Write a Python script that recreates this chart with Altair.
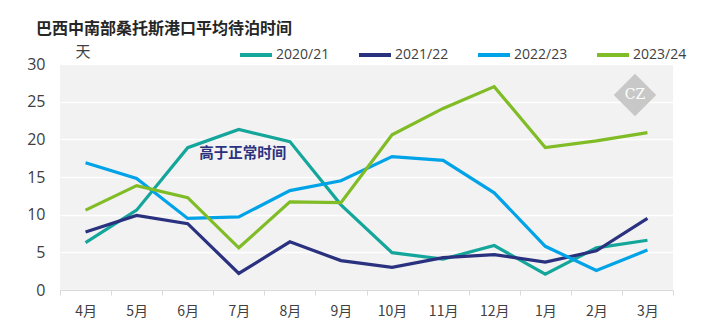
import altair as alt
import pandas as pd

months = ["4月", "5月", "6月", "7月", "8月", "9月", "10月", "11月", "12月", "1月", "2月", "3月"]
seasons = ["2020/21", "2021/22", "2022/23", "2023/24"]
colors = ["#14a69a", "#2a317f", "#00a3e8", "#80bc26"]
s2020 = [6.3, 10.6, 18.9, 21.3, 19.7, 11.3, 4.95, 4.1, 5.9, 2.1, 5.6, 6.6]
s2021 = [7.7, 9.9, 8.8, 2.2, 6.4, 3.9, 3.0, 4.3, 4.7, 3.7, 5.2, 9.5]
s2022 = [16.9, 14.8, 9.5, 9.7, 13.2, 14.5, 17.7, 17.2, 12.9, 5.8, 2.6, 5.3]
s2023 = [10.6, 13.85, 12.25, 5.6, 11.7, 11.6, 20.6, 24.1, 27.0, 18.9, 19.8, 20.9]
y_ticks = [0, 5, 10, 15, 20, 25, 30]

rows = []
for name, vals in zip(seasons, [s2020, s2021, s2022, s2023]):
    for m, v in zip(months, vals):
        rows.append({"month": m, "season": name, "value": v})
df = pd.DataFrame(rows)

cjk = "Noto Sans CJK SC"
num = "Open Sans"

xscale = alt.Scale(type="band", paddingInner=0, paddingOuter=0)
yscale = alt.Scale(domain=[0, 30], nice=False)

x = alt.X("month:N", sort=months, title=None, scale=xscale,
          axis=alt.Axis(labelAngle=0, tickBand="extent", domainColor="#d9d9d9", tickColor="#d9d9d9",
                        tickSize=5, labelPadding=9, labelFont=cjk, labelFontSize=14,
                        labelColor="#404040", grid=False))
y = alt.Y("value:Q", title=None, scale=yscale,
          axis=alt.Axis(values=y_ticks, tickCount=7, domain=False, ticks=False, labelPadding=15,
                        labelOverlap=False, labelFlush=False,
                        labelFont=num, labelFontSize=16, labelColor="#404040",
                        gridColor="#ffffff", gridWidth=1.5))

lines = alt.Chart(df).mark_line(strokeWidth=3.2, strokeJoin="miter").encode(
    x=x, y=y,
    color=alt.Color("season:N", sort=seasons,
                    scale=alt.Scale(domain=seasons, range=colors),
                    legend=alt.Legend(title=None, orient="none", direction="horizontal",
                                      legendX=178, legendY=-27, symbolType="stroke",
                                      symbolStrokeWidth=4, symbolSize=1024, labelOffset=2,
                                      columnPadding=21, labelFont=num, labelFontSize=14,
                                      labelColor="#404040")),
    detail="season:N",
)

ann = alt.Chart(pd.DataFrame({"month": ["7月"], "value": [18.05], "t": ["高于正常时间"]})).mark_text(
    font=cjk, fontSize=14.5, fontWeight="bold", color="#2a317f", dx=4, baseline="middle"
).encode(x=x, y=y, text="t:N")

title = alt.Chart(pd.DataFrame({"t": ["巴西中南部桑托斯港口平均待泊时间"]})).mark_text(
    font=cjk, fontSize=16, fontWeight="bold", color="#262626", align="left", baseline="middle"
).encode(x=alt.value(-24), y=alt.value(-35), text="t:N")

unit = alt.Chart(pd.DataFrame({"t": ["天"]})).mark_text(
    font=cjk, fontSize=15, color="#404040", align="center", baseline="middle"
).encode(x=alt.value(23), y=alt.value(-12), text="t:N")

wm = alt.Chart(pd.DataFrame({"t": ["CZ"]})).mark_point(
    shape="diamond", filled=True, color="#c8c8c8", opacity=1, size=1800
).encode(x=alt.value(575), y=alt.value(31))
wmt = alt.Chart(pd.DataFrame({"t": ["CZ"]})).mark_text(
    font="DejaVu Serif", fontSize=14, color="#ffffff", baseline="middle", align="center"
).encode(x=alt.value(575), y=alt.value(31), text="t:N")

chart = alt.layer(lines, wm, wmt, ann, title, unit).properties(
    width=613, height=226,
    autosize=alt.AutoSizeParams(type="none"),
    padding={"left": 60, "top": 64, "right": 29, "bottom": 46},
    background="#ffffff",
).configure_view(fill="#f2f2f2", stroke=None)

chart.save("out.html", embed_options={"renderer": "svg", "actions": False})
